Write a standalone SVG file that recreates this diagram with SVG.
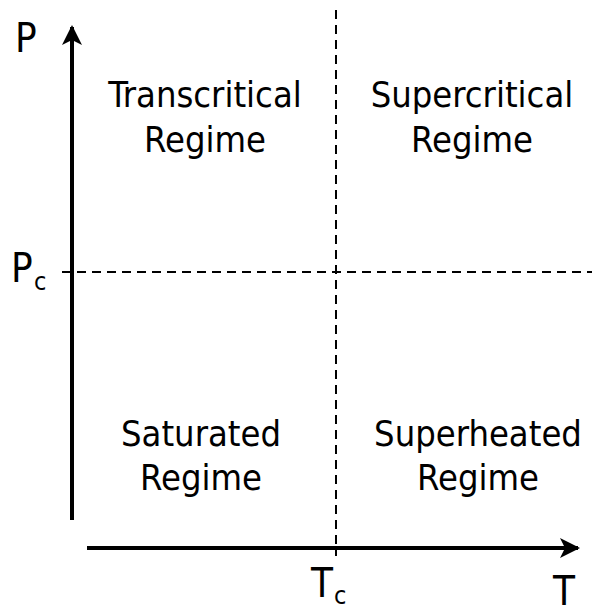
<svg xmlns="http://www.w3.org/2000/svg" width="592" height="606" viewBox="0 0 592 606">
<style>
text{font-family:"DejaVu Sans Condensed","DejaVu Sans","Liberation Sans",sans-serif;fill:#000}
.lab{font-size:36px;text-anchor:middle}
.big{font-size:40px}
.sub{font-size:25px}
.ax{stroke:#000;stroke-width:4;fill:none}
.dash{stroke:#000;stroke-width:2;stroke-dasharray:9,6;fill:none}
</style>
<defs>
<marker id="ah" viewBox="0 0 10 10" refX="9" refY="5" markerWidth="6" markerHeight="5" markerUnits="strokeWidth" orient="auto">
<path d="M0,0 L10,5 L0,10 L2.5,5 Z" fill="#000"/>
</marker>
</defs>
<rect width="592" height="606" fill="#fff"/>
<g id="connectors">
<line class="dash" x1="336" y1="10" x2="336" y2="556"/>
<line class="dash" x1="62" y1="272" x2="592" y2="272"/>
<line class="ax" x1="72" y1="520" x2="72" y2="27" marker-end="url(#ah)"/>
<line class="ax" x1="87" y1="548" x2="578" y2="548" marker-end="url(#ah)"/>
</g>
<g id="transcritical"><text class="lab" x="205" y="107">Transcritical</text><text class="lab" x="205" y="152">Regime</text></g>
<g id="supercritical"><text class="lab" x="472" y="107">Supercritical</text><text class="lab" x="472" y="152">Regime</text></g>
<g id="saturated"><text class="lab" x="201" y="446">Saturated</text><text class="lab" x="201" y="490">Regime</text></g>
<g id="superheated"><text class="lab" x="478" y="446">Superheated</text><text class="lab" x="478" y="490">Regime</text></g>
<g id="axis-labels">
<text class="big" x="15" y="52">P</text>
<text class="big" x="11" y="282">P</text><text class="sub" x="34" y="290">c</text>
<text class="big" x="311" y="597">T</text><text class="sub" x="334" y="604">c</text>
<text class="big" x="553" y="605">T</text>
</g>
</svg>
